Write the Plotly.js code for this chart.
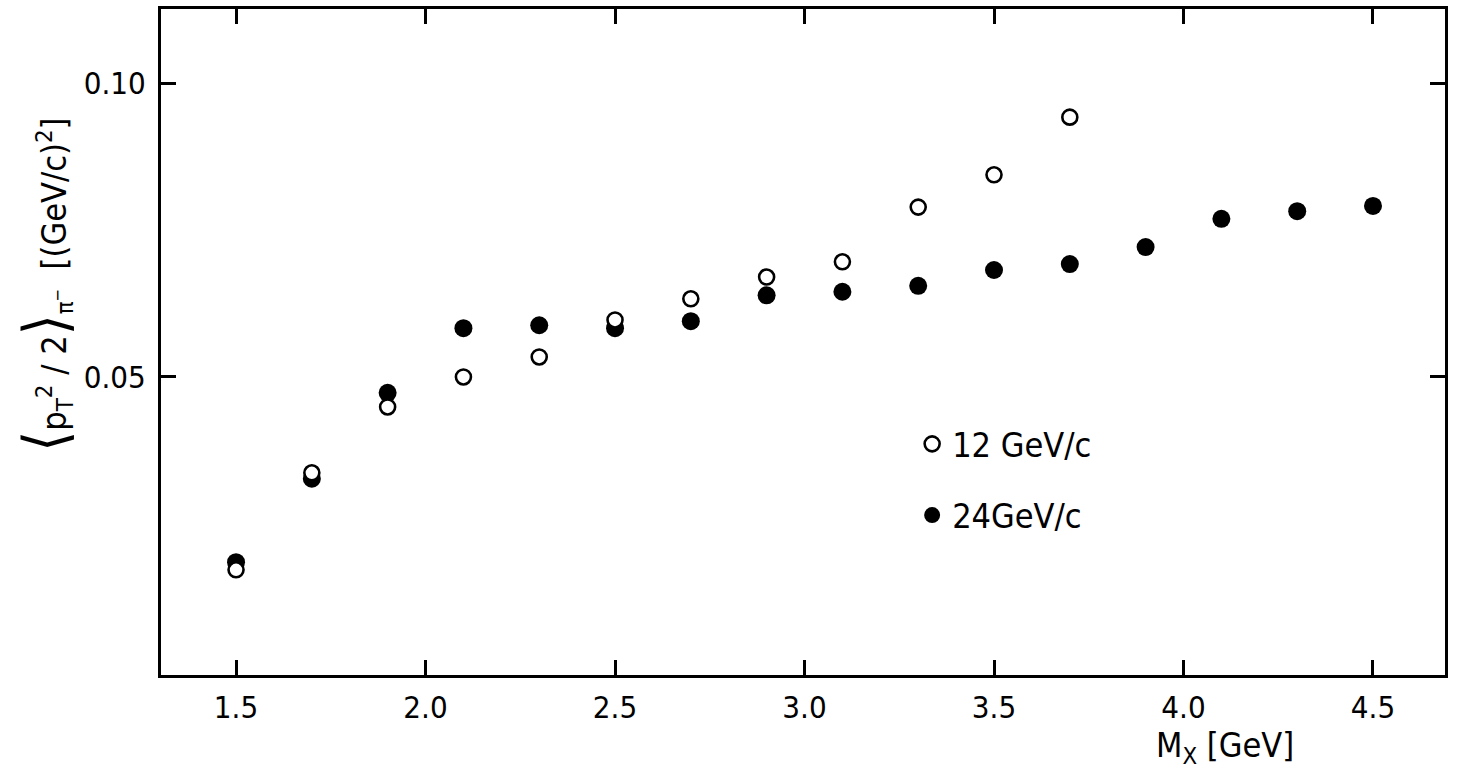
<!DOCTYPE html>
<html>
<head>
<meta charset="utf-8">
<script src="https://cdn.plot.ly/plotly-3.0.1.min.js"></script>
<style>html,body{margin:0;padding:0;background:#fff;}#chart{width:1458px;height:780px;}</style>
</head>
<body>
<div id="chart"></div>
<script>
// Data
const mx12 = [1.5, 1.7, 1.9, 2.1, 2.3, 2.5, 2.7, 2.9, 3.1, 3.3, 3.5, 3.7];
const pt12 = [0.0172, 0.0337, 0.0449, 0.0500, 0.0534, 0.0597, 0.0633, 0.0670, 0.0696, 0.0789, 0.0844, 0.0942];
const mx24 = [1.5, 1.7, 1.9, 2.1, 2.3, 2.5, 2.7, 2.9, 3.1, 3.3, 3.5, 3.7, 3.9, 4.1, 4.3, 4.5];
const pt24 = [0.0185, 0.0327, 0.0473, 0.0583, 0.0588, 0.0583, 0.0595, 0.0639, 0.0645, 0.0655, 0.0682, 0.0692, 0.0721, 0.0769, 0.0782, 0.0791];
const xTickVals = [1.5, 2.0, 2.5, 3.0, 3.5, 4.0, 4.5];
const xTickText = ["1.5", "2.0", "2.5", "3.0", "3.5", "4.0", "4.5"];
const yTickVals = [0.05, 0.10];
const yTickText = ["0.05", "0.10"];
const name12 = "12 GeV/c";
const name24 = "24GeV/c";

const FONT = "'DejaVu Sans Condensed', 'Liberation Sans Narrow', 'DejaVu Sans', sans-serif";

const traces = [
  {
    x: mx24, y: pt24, type: 'scatter', mode: 'markers', name: name24,
    legendgroup: 'b', legendrank: 2,
    marker: {symbol: 'circle', size: 18, color: '#000', line: {width: 0}}
  },
  {
    x: mx12, y: pt12, type: 'scatter', mode: 'markers', name: name12,
    legendgroup: 'a', legendrank: 1,
    marker: {symbol: 'circle', size: 15, color: '#fff', line: {width: 2.6, color: '#000'}}
  }
];

const axisCommon = {
  showgrid: false, zeroline: false, showline: true, linecolor: '#000', linewidth: 3,
  mirror: 'ticks', ticks: 'inside', ticklen: 15, tickwidth: 3, tickcolor: '#000',
  tickfont: {family: FONT, size: 31, color: '#000'}
};

const layout = {
  width: 1458, height: 780,
  margin: {l: 161, r: 13, t: 9, b: 105},
  paper_bgcolor: '#fff', plot_bgcolor: '#fff',
  font: {family: FONT, color: '#000'},
  xaxis: Object.assign({}, axisCommon, {
    range: [1.302, 4.690], tickmode: 'array', tickvals: xTickVals, ticktext: xTickText,
    ticklabelstandoff: 3
  }),
  yaxis: Object.assign({}, axisCommon, {
    range: [-0.0007, 0.1126], tickmode: 'array', tickvals: yTickVals, ticktext: yTickText,
    ticklabelstandoff: 6
  }),
  showlegend: true,
  legend: {
    x: 0.585, y: 0.39, xanchor: 'left', yanchor: 'top',
    xref: 'paper', yref: 'paper',
    bgcolor: 'rgba(0,0,0,0)', borderwidth: 0,
    font: {family: FONT, size: 34, color: '#000'},
    tracegroupgap: 24, itemwidth: 30
  },
  annotations: [
    {
      xref: 'paper', yref: 'paper', x: -0.0905, y: 0.5856, xanchor: 'center', yanchor: 'middle',
      textangle: -90, showarrow: false,
      text: "<span style='font-size:60px'>⟨</span>p<sub>T</sub><sup>2</sup> / 2<span style='font-size:60px'>⟩</span><sub>π<sup>−</sup></sub>  [(GeV/c)<sup>2</sup>]",
      font: {family: FONT, size: 34, color: '#000'}
    },
    {
      xref: 'paper', yref: 'paper', x: 0.829, y: -0.1085, xanchor: 'center', yanchor: 'middle',
      showarrow: false,
      text: "M<sub>X</sub> [GeV]",
      font: {family: FONT, size: 34, color: '#000'}
    }
  ]
};

Plotly.newPlot('chart', traces, layout, {displayModeBar: false, staticPlot: true});
</script>
</body>
</html>
